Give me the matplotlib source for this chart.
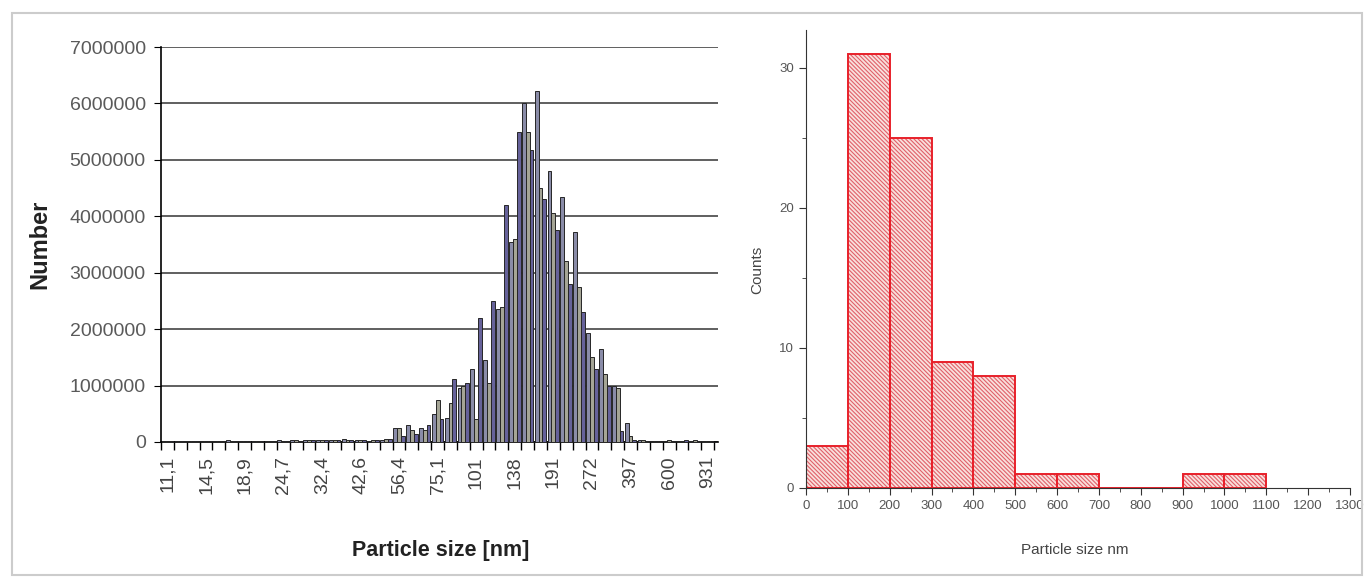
import matplotlib
matplotlib.use('Agg')
import matplotlib.pyplot as plt
import numpy as np
from matplotlib.patches import Rectangle

plt.rcParams['font.family'] = ['Liberation Sans', 'DejaVu Sans']
plt.rcParams['hatch.linewidth'] = 0.8

# left chart: number distribution (3 runs per size class), in millions
size_labels = ['11,1', '14,5', '18,9', '24,7', '32,4', '42,6', '56,4', '75,1',
               '101', '138', '191', '272', '397', '600', '931']
run1 = [0.01, 0.01, 0.01, 0.01, 0.01, 0.04, 0.01, 0.01, 0.02, 0.04, 0.04,
        0.04, 0.04, 0.03, 0.06, 0.03, 0.02, 0.04, 0.25, 0.30, 0.25, 0.50,
        0.43, 0.95, 1.30, 1.45, 2.35, 3.55, 6.00, 6.22, 4.80, 4.35, 3.72,
        1.93, 1.65, 1.00, 0.33, 0.03, 0.02, 0.02, 0.02, 0.01, 0.02]
run2 = [0.01, 0.01, 0.01, 0.02, 0.01, 0.02, 0.01, 0.01, 0.01, 0.02, 0.03,
        0.03, 0.03, 0.03, 0.04, 0.03, 0.03, 0.06, 0.24, 0.22, 0.22, 0.75,
        0.70, 1.00, 0.40, 1.05, 2.40, 3.60, 5.50, 4.50, 4.05, 3.20, 2.75,
        1.50, 1.20, 0.95, 0.10, 0.03, 0.02, 0.03, 0.02, 0.03, 0.01]
run3 = [0.01, 0.01, 0.01, 0.01, 0.01, 0.02, 0.01, 0.01, 0.01, 0.02, 0.02,
        0.03, 0.03, 0.03, 0.04, 0.03, 0.03, 0.05, 0.10, 0.15, 0.30, 0.40,
        1.12, 1.05, 2.20, 2.50, 4.20, 5.50, 5.18, 4.30, 3.75, 2.80, 2.30,
        1.30, 1.00, 0.20, 0.03, 0.02, 0.02, 0.02, 0.03, 0.02, 0.01]

# right chart: TEM size histogram
bin_edges = [0, 100, 200, 300, 400, 500, 600, 700, 800, 900, 1000, 1100]
counts = [3, 31, 25, 9, 8, 1, 1, 0, 0, 1, 1]

fig = plt.figure(figsize=(13.65, 5.77), dpi=100)
W, H = 1365, 577

# light frame around the picture
fig.patches.append(Rectangle((12 / W, 2 / H), 1350 / W, 562 / H, transform=fig.transFigure,
                             fill=False, edgecolor='#cccccc', linewidth=1.5))

ax1 = fig.add_axes([161 / W, (H - 442) / H, 557 / W, 395 / H])
n = len(run1)
x = np.arange(n)
w = 0.3
runs = [run1, run2, run3]
cols = ['#8a8ca8', '#a5a596', '#66629a']
for k, r in enumerate(runs):
    ax1.bar(x + (k - 1) * w, np.array(r) * 1e6, width=w, color=cols[k],
            edgecolor='#262626', linewidth=0.7, zorder=3)

ax1.set_xlim(-0.5, n - 0.5 + 0.3)
ax1.set_ylim(0, 7e6)
ax1.set_yticks(np.arange(0, 7000001, 1000000))
ax1.set_yticklabels([str(v) for v in range(0, 7000001, 1000000)])
ax1.yaxis.grid(True, color='#444444', linewidth=1.2, zorder=0)
ax1.set_axisbelow(True)
ax1.spines['top'].set_visible(False)
ax1.spines['right'].set_visible(False)
ax1.spines['left'].set_linewidth(1.2)
ax1.spines['bottom'].set_linewidth(1.2)
ax1.tick_params(axis='y', direction='out', length=5, labelsize=14,
                labelcolor='#5a5a5a', pad=6)
ax1.set_xticks(np.arange(0, n, 3))
ax1.set_xticklabels(size_labels, rotation=90, fontsize=14, color='#444444')
ax1.set_xticks(np.arange(-0.5, n, 1), minor=True)
ax1.tick_params(axis='x', which='major', length=0, pad=10)
ax1.tick_params(axis='x', which='minor', direction='out', length=6, width=1)
ax1.set_ylabel('Number', fontsize=17, fontweight='bold', color='#222222')
ax1.yaxis.set_label_coords(-0.196, 0.5)
ax1.set_xlabel('Particle size [nm]', fontsize=15.5, fontweight='bold', color='#222222')
ax1.xaxis.set_label_coords(0.503, -0.248)

ax2 = fig.add_axes([806 / W, (H - 488) / H, 544 / W, 458 / H])
# hatched pink fill, then the red outline on top
ax2.bar(bin_edges[:-1], counts, width=100, align='edge', facecolor='#f9e0dc',
        edgecolor='#e0606a', hatch='\\\\\\\\\\\\\\\\', linewidth=0)
ax2.bar(bin_edges[:-1], counts, width=100, align='edge', fill=False,
        edgecolor='#e8202a', linewidth=1.4)
ax2.set_xlim(0, 1300)
ax2.set_ylim(0, 32.7)
ax2.set_xticks(np.arange(0, 1301, 100))
ax2.set_xticks(np.arange(50, 1300, 100), minor=True)
ax2.set_yticks([0, 10, 20, 30])
ax2.set_yticks([5, 15, 25], minor=True)
ax2.spines['top'].set_visible(False)
ax2.spines['right'].set_visible(False)
ax2.spines['left'].set_color('#333333')
ax2.spines['bottom'].set_color('#333333')
ax2.tick_params(axis='both', which='major', direction='out', length=5,
                labelsize=9.5, labelcolor='#555555', color='#333333')
ax2.tick_params(axis='both', which='minor', direction='out', length=3, color='#333333')
ax2.set_ylabel('Counts', fontsize=11, color='#444444')
ax2.yaxis.set_label_coords(-0.077, 0.476)
ax2.set_xlabel('Particle size nm', fontsize=11, color='#444444')
ax2.xaxis.set_label_coords(0.494, -0.12)

fig.savefig('out.png', dpi=100)
